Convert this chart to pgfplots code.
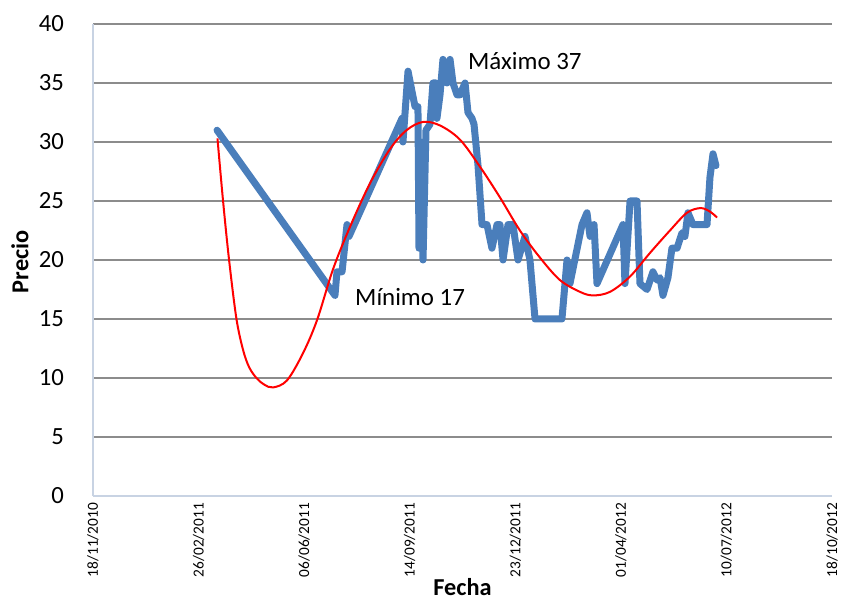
\documentclass[border=0pt]{standalone}
\usepackage{fontspec}
\setmainfont{Carlito}
\usepackage{pgfplots}
\pgfplotsset{compat=1.18}

\definecolor{serie}{HTML}{4A7EBB}
\definecolor{rejilla}{HTML}{8C8C8C}
\definecolor{eje}{HTML}{C8D3E3}

\begin{document}
\begin{tikzpicture}
\begin{axis}[
    scale only axis,
    width=369.5bp,
    height=236bp,
    xmin=0, xmax=700,
    ymin=0, ymax=40,
    axis lines*=left,
    axis line style={eje, line width=0.8bp, -},
    xtick={0,100,...,700},
    xticklabels={18/11/2010,26/02/2011,06/06/2011,14/09/2011,23/12/2011,01/04/2012,10/07/2012,18/10/2012},
    xticklabel style={rotate=90, anchor=east, font=\fontsize{7.7}{8}\selectfont},
    xtick style={draw=none},
    ytick={0,5,...,40},
    yticklabel style={font=\fontsize{12.4}{14}\selectfont, xshift=-11bp},
    ytick style={draw=none},
    ymajorgrids,
    grid style={rejilla, line width=0.75bp},
    xlabel={\textbf{Fecha}},
    ylabel={\textbf{Precio}},
    xlabel style={at={(axis description cs:0.5,-0.192)}, anchor=center, font=\fontsize{12.2}{14}\selectfont},
    ylabel style={at={(axis description cs:-0.0988,0.496)}, anchor=center, rotate=0, font=\fontsize{12.2}{14}\selectfont},
    /pgf/number format/assume math mode=true,
    clip=false,
]

% precio observado
\addplot[serie, line width=3.5bp, line join=round, line cap=round]
coordinates {
    (117.5,31) (229.2,17) (231.1,19) (235.9,19) (240.6,23) (242.5,22)
    (292.7,32) (293.6,30) (298.4,36) (305.0,33) (307.8,33) (308.8,21)
    (310.7,30) (312.6,20) (315.4,31) (319.2,31.5) (322.0,35) (324.9,35)
    (325.8,32) (328.7,34) (331.5,37) (335.3,35) (338.2,37) (341.0,35)
    (344.8,34) (347.6,34) (352.4,35) (355.2,32.5) (359.0,32) (360.9,31.5)
    (364.7,28) (368.5,23) (373.2,23) (377.9,21) (382.7,23) (385.5,23)
    (388.4,20) (393.1,23) (397.8,23) (402.6,20) (409.2,22) (413.9,20)
    (418.7,15) (444.2,15) (449.0,20) (451.8,18) (463.2,23) (467.9,24)
    (470.8,22) (474.6,23) (477.4,18) (502.0,23) (503.9,18) (508.7,25)
    (515.3,25) (518.1,18) (524.8,17.5) (530.4,19) (534.2,18.3) (537.1,18.5)
    (539.9,17) (544.6,18.5) (548.4,21) (553.2,21) (557.9,22.3) (560.7,22)
    (563.6,24) (568.3,23) (581.6,23) (584.4,27) (587.3,29) (590.1,28)
};

% tendencia
\addplot[red, line width=1bp, smooth, tension=0.55]
coordinates {
    (117.9,30.3) (123.2,25) (128.9,20) (135.9,15) (142.4,12.3)
    (148,10.9) (154.8,10) (162,9.45) (170.5,9.2) (183.8,9.8) (198.9,12.1) (212.2,14.9)
    (227.3,19.2) (243.4,22.8) (262.4,26.5) (281.3,29.4) (297,31)
    (312.6,31.7) (328.7,31.4) (347.6,30.2) (366.6,27.9) (385.5,25.3)
    (404.4,22.5) (423.4,20.2) (442.3,18.3) (461.3,17.3) (473.6,17.0)
    (489.7,17.3) (508.7,18.6) (527.6,20.6) (546.5,22.5) (562.6,24)
    (575.5,24.4) (584.4,24.1) (591.1,23.6)
};

\node[anchor=west, font=\fontsize{12.5}{14}\selectfont, inner sep=0pt] at (axis cs:248,16.9) {Mínimo 17};
\node[anchor=west, font=\fontsize{12.5}{14}\selectfont, inner sep=0pt] at (axis cs:355,36.9) {Máximo 37};

\coordinate (sw) at (rel axis cs:0,0);
\coordinate (ne) at (rel axis cs:1,1);
\end{axis}
\pgfresetboundingbox
\path[use as bounding box] ([shift={(-46.5bp,-53bp)}]sw) rectangle ([shift={(4.5bp,12bp)}]ne);
\end{tikzpicture}
\end{document}
